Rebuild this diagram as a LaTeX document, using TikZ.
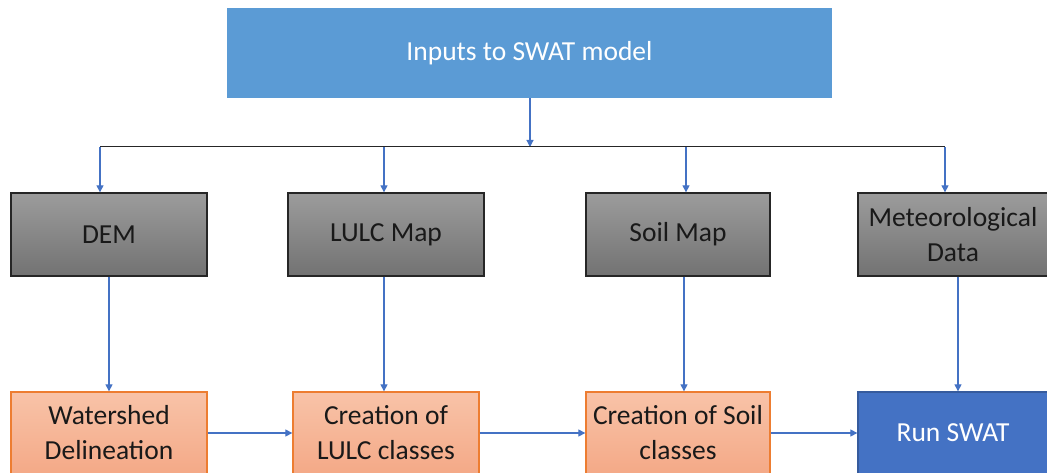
\documentclass[tikz,border=0pt]{standalone}
\usepackage{fontspec}
\setmainfont{Carlito}
\usetikzlibrary{arrows.meta,positioning}
\definecolor{topblue}{HTML}{5B9BD5}
\definecolor{runblue}{HTML}{4472C4}
\definecolor{arrblue}{HTML}{4472C4}
\definecolor{orangeline}{HTML}{ED7D31}
\definecolor{orangetop}{HTML}{F8C3A8}
\definecolor{orangebot}{HTML}{F4A987}
\definecolor{graytop}{HTML}{9C9C9C}
\definecolor{graybot}{HTML}{727272}

\begin{document}
\begin{tikzpicture}[
  x=1pt, y=-1pt,
  font=\fontsize{27.5}{35}\selectfont,
  inbox/.style={draw=black!85, line width=1.3pt, top color=graytop, bottom color=graybot, align=center, minimum height=83pt, inner sep=2pt, text=black!90},
  stepbox/.style={draw=orangeline, line width=1.3pt, top color=orangetop, bottom color=orangebot, align=center, minimum height=82pt, inner sep=2pt, text=black!90},
  arr/.style={draw=arrblue, line width=1.1pt, -{Triangle[length=7pt,width=7pt]}}
]
\useasboundingbox (0,0) rectangle (1047,473);
\node[fill=topblue, text=white, minimum width=605pt, minimum height=90pt] (inputs) at (529.5,53) {Inputs to SWAT model};
% input layers
\node[inbox, minimum width=196pt] (dem) at (109,234.5) {DEM};
\node[inbox, minimum width=196pt] (lulc) at (386,234.5) {LULC Map};
\node[inbox, minimum width=184pt] (soil) at (678,234.5) {Soil Map};
\node[inbox, minimum width=190pt] (met) at (953,234.5) {Meteorological\\Data};
% processing steps
\node[stepbox, minimum width=196pt] (ws) at (109,433) {Watershed\\Delineation};
\node[stepbox, minimum width=186pt] (lulccl) at (386,433) {Creation of\\LULC classes};
\node[stepbox, minimum width=184pt] (soilcl) at (678,433) {Creation of Soil\\classes};
\node[draw=runblue!80!black, line width=1.3pt, fill=runblue, text=white, minimum width=190pt, minimum height=82pt] (run) at (953,433) {Run SWAT};
% distribution bus
\coordinate (bus) at (530,147);
\coordinate (b1) at (100,147);
\coordinate (b2) at (384,147);
\coordinate (b3) at (686,147);
\coordinate (b4) at (945,147);
\draw[arr] (inputs.south -| bus) -- (bus);
\draw[black!85, line width=1pt] (b1) -- (b4);
\foreach \b/\n in {b1/dem, b2/lulc, b3/soil, b4/met}
  \draw[arr] (\b) -- (\b |- \n.north);
\draw[arr] (dem.south) -- (ws.north);
\draw[arr] (lulc.south -| b2) -- (lulccl.north -| b2);
\draw[arr] ([xshift=6pt]soil.south) -- ([xshift=6pt]soilcl.north);
\draw[arr] ([xshift=5pt]met.south) -- ([xshift=5pt]run.north);
\draw[arr] (ws) -- (lulccl);
\draw[arr] (lulccl) -- (soilcl);
\draw[arr] (soilcl) -- (run);
\end{tikzpicture}
\end{document}
